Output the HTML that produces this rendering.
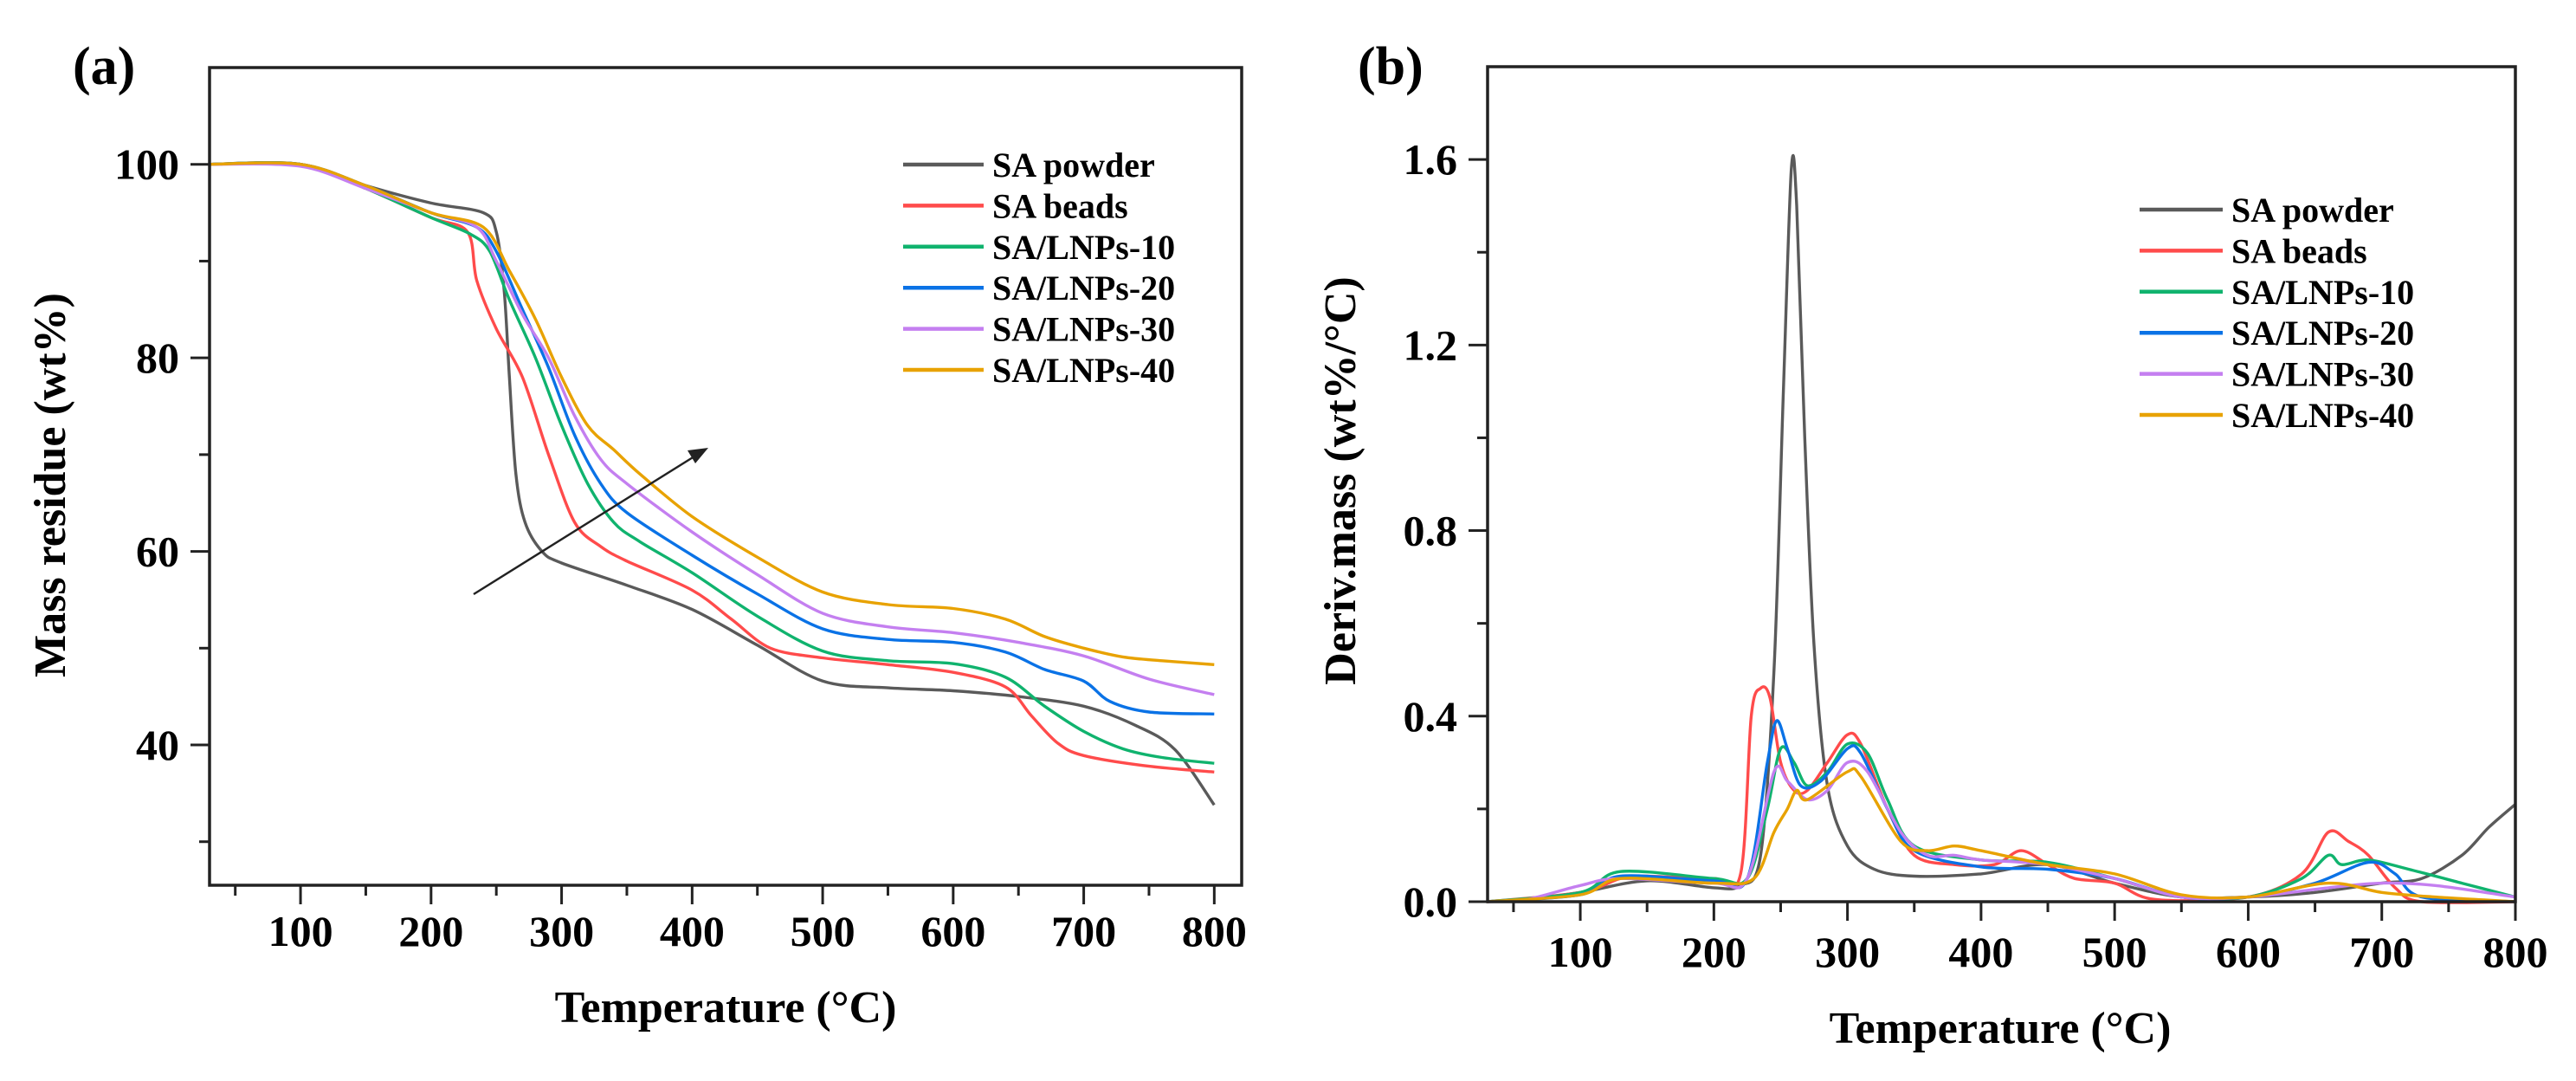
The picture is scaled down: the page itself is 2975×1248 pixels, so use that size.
<!DOCTYPE html>
<html><head><meta charset="utf-8">
<style>
html,body{margin:0;padding:0;background:#fff;}
svg{display:block;font-family:"Liberation Serif","DejaVu Serif",serif;font-weight:bold;}
</style></head>
<body>
<svg id="fig" width="2975" height="1248" viewBox="0 0 2975 1248" xmlns="http://www.w3.org/2000/svg">
<rect width="2975" height="1248" fill="#fff"/>
<g id="pa"></g>
<g id="pb"></g>
</svg>
<script>
const seriesNames = ["SA powder","SA beads","SA/LNPs-10","SA/LNPs-20","SA/LNPs-30","SA/LNPs-40"];
const seriesKeys = ["sa-powder","sa-beads","sa-lnps-10","sa-lnps-20","sa-lnps-30","sa-lnps-40"];
const colors = ["#5a5a5a","#ff4b4b","#10b36e","#0a72e6","#c47ff0","#e8a200"];
const xTicks = [100,200,300,400,500,600,700,800];
const yTicksA = [40,60,80,100];
const yTicksB = [0.0,0.4,0.8,1.2,1.6];
const yTickLabelsB = ["0.0","0.4","0.8","1.2","1.6"];

// Panel (a) mass residue: [temperature, wt%]
const tgaPowder = [[30,100],[100,100],[150,97.8],[200,96],[240,95],[250,93],[256,87],[260,78],[265,68],[272,63],[285,60],[300,58.8],[350,56.5],[400,54],[450,50.3],[500,46.6],[550,45.9],[600,45.6],[650,45],[700,44],[740,42],[770,39.5],[800,33.8]];
const tgaBeads = [[30,100],[100,100],[150,97.5],[200,94.5],[228,93],[235,88],[250,83],[270,78],[290,70],[310,63],[330,60.5],[350,59],[400,56],[430,53],[460,50],[500,49],[550,48.3],[600,47.5],[640,46],[660,43],[680,40.2],[700,38.9],[750,37.8],[800,37.2]];
const tgaL10 = [[30,100],[100,100],[150,97.5],[200,94.5],[230,92.8],[245,91],[260,86],[280,80],[300,73],[320,67],[340,63],[360,61],[400,57.8],[450,53.3],[500,49.7],[550,48.7],[600,48.4],[640,47],[670,44],[700,41.4],[730,39.6],[760,38.7],[800,38.1]];
const tgaL20 = [[30,100],[100,100],[150,97.8],[200,95],[235,93.5],[250,91],[270,85],[290,79],[310,72],[330,67],[350,64],[400,59.6],[450,55.6],[500,52],[550,50.9],[600,50.6],[640,49.6],[670,47.8],[700,46.6],[720,44.5],[750,43.4],[800,43.2]];
const tgaL30 = [[30,100],[100,99.8],[150,97.5],[200,95],[235,93.5],[250,90],[270,84.5],[290,80],[310,74],[330,69.5],[350,67],[400,62],[450,57.6],[500,53.6],[550,52.2],[600,51.6],[650,50.6],[700,49.2],[750,46.8],[800,45.2]];
const tgaL40 = [[30,100],[100,100],[150,97.8],[200,95],[240,93.5],[260,89],[280,84],[300,78],[320,73],[340,70.5],[360,68],[400,63.6],[450,59.4],[500,55.8],[550,54.5],[600,54.1],[640,53],[670,51.2],[700,50],[730,49.1],[760,48.7],[800,48.3]];

// Panel (b) derivative mass: [temperature, wt%/°C]
const dtgPowder = [[30,0],[60,0.005],[100,0.02],[150,0.045],[200,0.03],[220,0.035],[235,0.1],[245,0.5],[252,1.1],[258,1.58],[262,1.5],[268,1.0],[275,0.55],[285,0.25],[300,0.12],[320,0.07],[350,0.055],[400,0.06],[450,0.08],[500,0.04],[550,0.01],[600,0.01],[650,0.02],[700,0.04],[730,0.05],[760,0.1],[780,0.16],[800,0.21]];
const dtgBeads = [[30,0],[100,0.02],[130,0.05],[150,0.055],[200,0.05],[220,0.06],[228,0.4],[235,0.46],[242,0.44],[250,0.3],[260,0.24],[270,0.24],[285,0.3],[300,0.36],[310,0.34],[330,0.2],[350,0.1],[380,0.08],[410,0.08],[430,0.11],[450,0.08],[470,0.05],[500,0.04],[530,0.005],[600,0.01],[640,0.06],[660,0.15],[675,0.13],[690,0.1],[710,0.03],[730,0],[800,0]];
const dtgL10 = [[30,0],[100,0.02],[130,0.065],[200,0.05],[225,0.05],[240,0.2],[250,0.33],[260,0.3],[270,0.25],[285,0.28],[300,0.34],[315,0.32],[330,0.22],[350,0.12],[400,0.09],[450,0.085],[500,0.05],[550,0.01],[600,0.01],[640,0.05],[660,0.1],[670,0.08],[690,0.09],[720,0.07],[760,0.04],[800,0.01]];
const dtgL20 = [[30,0],[100,0.015],[130,0.055],[200,0.045],[225,0.05],[240,0.3],[247,0.39],[255,0.33],[265,0.25],[280,0.26],[300,0.33],[310,0.32],[330,0.2],[350,0.11],[400,0.075],[450,0.07],[500,0.05],[550,0.01],[600,0.01],[650,0.04],[690,0.085],[710,0.06],[730,0.01],[800,0]];
const dtgL30 = [[30,0],[60,0.005],[100,0.035],[130,0.05],[200,0.04],[225,0.05],[245,0.28],[255,0.26],[270,0.22],[285,0.24],[300,0.3],[315,0.28],[340,0.15],[360,0.1],[380,0.1],[400,0.09],[450,0.08],[500,0.05],[550,0.01],[600,0.01],[660,0.03],[700,0.04],[740,0.035],[800,0.01]];
const dtgL40 = [[30,0],[100,0.015],[130,0.05],[200,0.04],[230,0.05],[245,0.15],[255,0.2],[262,0.24],[270,0.22],[300,0.28],[310,0.27],[340,0.13],[360,0.11],[380,0.12],[400,0.11],[450,0.08],[500,0.06],[550,0.015],[600,0.01],[660,0.04],[700,0.02],[740,0.01],[800,0]];

const tgaSeries = [tgaPowder,tgaBeads,tgaL10,tgaL20,tgaL30,tgaL40];
const dtgSeries = [dtgPowder,dtgBeads,dtgL10,dtgL20,dtgL30,dtgL40];

const NS="http://www.w3.org/2000/svg";
function mk(tag, attrs, parent){const e=document.createElementNS(NS,tag);for(const k in attrs)e.setAttribute(k,attrs[k]);parent.appendChild(e);return e;}

function smoothPath(pts){
  let d="M"+pts[0][0].toFixed(1)+" "+pts[0][1].toFixed(1);
  const k=0.16;
  for(let i=0;i<pts.length-1;i++){
    const p0=pts[Math.max(0,i-1)],p1=pts[i],p2=pts[i+1],p3=pts[Math.min(pts.length-1,i+2)];
    const c1=[p1[0]+(p2[0]-p0[0])*k,p1[1]+(p2[1]-p0[1])*k];
    const c2=[p2[0]-(p3[0]-p1[0])*k,p2[1]-(p3[1]-p1[1])*k];
    d+=" C"+c1[0].toFixed(1)+" "+c1[1].toFixed(1)+" "+c2[0].toFixed(1)+" "+c2[1].toFixed(1)+" "+p2[0].toFixed(1)+" "+p2[1].toFixed(1);
  }
  return d;
}

function panel(g, cfg){
  const xs = t => cfg.L + (t-cfg.x0)/(cfg.x1-cfg.x0)*(cfg.R-cfg.L);
  const ys = v => cfg.B - (v-cfg.y0)/(cfg.y1-cfg.y0)*(cfg.B-cfg.T);
  cfg.series.forEach((s,i)=>{
    const d = smoothPath(s.map(p=>[xs(p[0]),ys(p[1])]));
    const p = mk("path",{d:d,fill:"none",stroke:colors[i],"stroke-width":3.4,"stroke-linejoin":"round"},g);
    
    
  });
  const fr = mk("rect",{x:cfg.L,y:cfg.T,width:cfg.R-cfg.L,height:cfg.AX-cfg.T,fill:"none",stroke:"#222","stroke-width":3.5},g);
  
  
  const xt = mk("g",{},g);
  
  
  for(let t=50;t<=cfg.x1;t+=50){
    const major = t%100===0;
    mk("line",{x1:xs(t),x2:xs(t),y1:cfg.AX,y2:cfg.AX+(major?22:12),stroke:"#222","stroke-width":3},xt);
  }
  xTicks.forEach(t=>{
    const tx = mk("text",{x:xs(t),y:cfg.xLabY,"text-anchor":"middle","font-size":50},xt);
    tx.textContent=t;
    
    
  });
  const yt = mk("g",{},g);
  
  
  cfg.minor.forEach(v=>mk("line",{x1:cfg.L-12,x2:cfg.L,y1:ys(v),y2:ys(v),stroke:"#222","stroke-width":3},yt));
  cfg.yt.forEach((v,i)=>{
    mk("line",{x1:cfg.L-22,x2:cfg.L,y1:ys(v),y2:ys(v),stroke:"#222","stroke-width":3},yt);
    const tx = mk("text",{x:cfg.L-35,y:ys(v)+17,"text-anchor":"end","font-size":50},yt);
    tx.textContent=cfg.ytl[i];
    
    
  });
  const xtT = mk("text",{x:cfg.xTitleX,y:cfg.xTitleY,"text-anchor":"middle","font-size":52},g);
  xtT.textContent="Temperature (°C)";
  
  
  const ytT = mk("text",{x:0,y:0,"text-anchor":"middle","font-size":52,transform:"translate("+cfg.yTitleX+","+cfg.yTitleY+") rotate(-90)"},g);
  ytT.textContent=cfg.yTitle;
  
  
  const pl = mk("text",{x:cfg.labX,y:cfg.labY,"font-size":62},g);
  pl.textContent=cfg.label;
  
  
  const lg = mk("g",{},g);
  
  
  seriesNames.forEach((n,i)=>{
    const y = cfg.legY + i*cfg.legDy;
    const e = mk("g",{},lg);
    
    
    mk("line",{x1:cfg.legX1,x2:cfg.legX2,y1:y,y2:y,stroke:colors[i],"stroke-width":4.5},e);
    const tx = mk("text",{x:cfg.legX2+10,y:y+14,"font-size":40},e);
    tx.textContent=n;
  });
  return {xs,ys};
}

const A = panel(document.getElementById("pa"),{prefix:"panel-a",L:242,R:1434,T:78,B:1022,AX:1022,x0:30.3,x1:821,y0:25.5,y1:110,
  series:tgaSeries,yt:yTicksA,ytl:yTicksA.map(String),minor:[30,50,70,90],xLabY:1092,
  xTitleX:838,xTitleY:1180,yTitleX:75,yTitleY:560,yTitle:"Mass residue (wt%)",label:"(a)",labX:84,labY:97,
  legX1:1043,legX2:1136,legY:190,legDy:47.4});
(function(){
  const g=document.getElementById("pa");
  const ar=mk("g",{},g);
  
  
  mk("line",{x1:547,y1:686,x2:805,y2:525,stroke:"#222","stroke-width":2.5},ar);
  mk("polygon",{points:"818,517 794,520 803,535",fill:"#222"},ar);
})();

const B = panel(document.getElementById("pb"),{prefix:"panel-b",L:1718,R:2905,T:77,B:1041,AX:1041,x0:30.6,x1:800,y0:0,y1:1.8,
  series:dtgSeries,yt:yTicksB,ytl:yTickLabelsB,minor:[0.2,0.6,1.0,1.4],xLabY:1116,
  xTitleX:2310,xTitleY:1204,yTitleX:1565,yTitleY:555,yTitle:"Deriv.mass (wt%/°C)",label:"(b)",labX:1568,labY:97,
  legX1:2471,legX2:2567,legY:242,legDy:47.4});
</script>
</body></html>
